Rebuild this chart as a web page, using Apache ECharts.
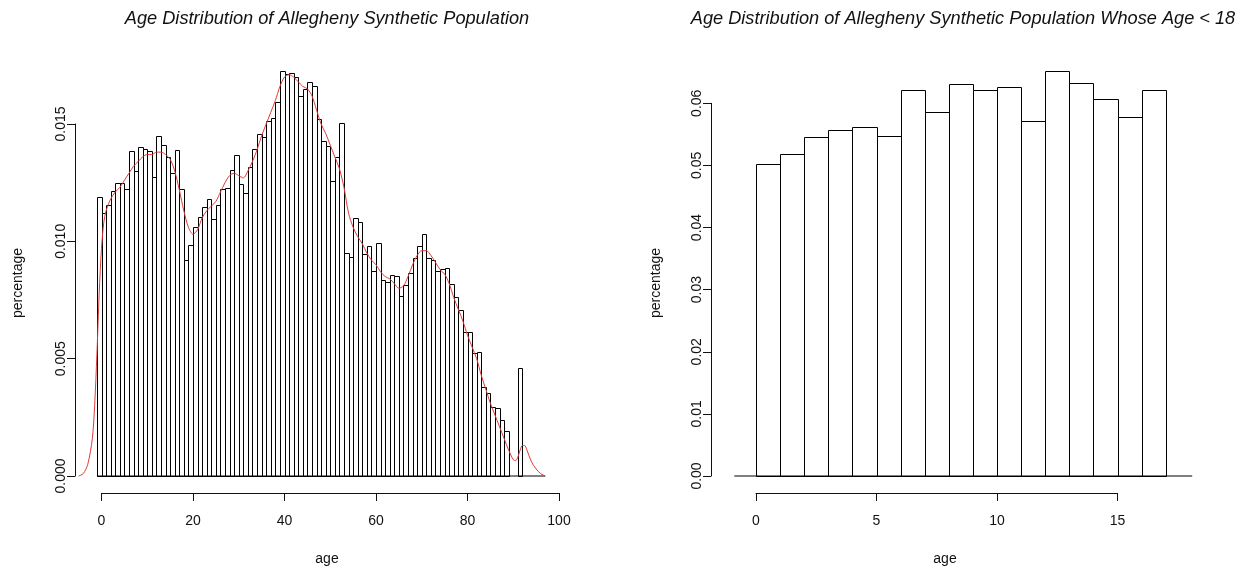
<!DOCTYPE html>
<html><head><meta charset="utf-8">
<script src="https://cdn.jsdelivr.net/npm/echarts@6/dist/echarts.min.js"></script>
<style>html,body{margin:0;padding:0;background:#fff}#c{width:1247px;height:575px}</style>
</head><body><div id="c"></div>
<script>
// ---------------- DATA ----------------
// Left: histogram of age (bin left edges, width 1) and density values
const histAge = [-1,0,1,2,3,4,5,6,7,8,9,10,11,12,13,14,15,16,17,18,19,20,21,22,23,24,25,26,27,28,29,30,31,32,33,34,35,36,37,38,39,40,41,42,43,44,45,46,47,48,49,50,51,52,53,54,55,56,57,58,59,60,61,62,63,64,65,66,67,68,69,70,71,72,73,74,75,76,77,78,79,80,81,82,83,84,85,86,87,88,91];
const histDensity = [0.01188,0.01119,0.01155,0.01216,0.01247,0.01250,0.01222,0.01385,0.01300,0.01403,0.01392,0.01386,0.01273,0.01449,0.01410,0.01361,0.01293,0.01389,0.01222,0.00920,0.00984,0.01062,0.01105,0.01148,0.01179,0.01094,0.01155,0.01222,0.01226,0.01304,0.01368,0.01244,0.01207,0.01318,0.01392,0.01457,0.01443,0.01513,0.01524,0.01592,0.01726,0.01712,0.01716,0.01702,0.01619,0.01648,0.01680,0.01663,0.01520,0.01428,0.01406,0.01258,0.01358,0.01503,0.00952,0.00932,0.01098,0.01084,0.00946,0.00980,0.00875,0.00992,0.00835,0.00828,0.00857,0.00852,0.00767,0.00814,0.00864,0.00930,0.00981,0.01031,0.00928,0.00920,0.00875,0.00881,0.00885,0.00818,0.00764,0.00707,0.00615,0.00615,0.00526,0.00528,0.00378,0.00352,0.00293,0.00291,0.00239,0.00192,0.00459];
const binWidth = 1;
// kernel density estimate (red curve)
const kdeAge = [-5,-4,-3,-2,-1.5,-1,-0.5,0,0.5,1,2,3,4,5,6,7,8,9,10,11,12,13,14,15,16,17,18,19,20,21,22,23,24,25,26,27,28,29,30,31,32,33,34,35,36,37,38,39,40,41,42,43,44,45,46,47,48,49,50,51,52,53,54,55,56,57,58,59,60,61,62,63,64,65,66,67,68,69,70,71,72,73,74,75,76,77,78,79,80,81,82,83,84,85,86,87,88,89,90,90.5,91,91.5,92,92.5,93,94,95,96,97];
const kdeDensity = [0,0.0001,0.0005,0.0016,0.0030,0.0052,0.0078,0.0097,0.0108,0.0113,0.0118,0.0121,0.0123,0.0126,0.0129,0.0132,0.0134,0.0136,0.0137,0.0137,0.0138,0.0138,0.0137,0.0135,0.0130,0.0122,0.0113,0.0106,0.0103,0.0105,0.0110,0.0113,0.0115,0.0117,0.0121,0.0125,0.0128,0.0129,0.0128,0.0127,0.0130,0.0134,0.0139,0.0145,0.0150,0.0155,0.0160,0.0166,0.0170,0.0171,0.0170,0.0168,0.0166,0.0165,0.0162,0.0156,0.0150,0.0146,0.0141,0.0136,0.0131,0.0123,0.0112,0.0106,0.0102,0.0099,0.0095,0.0092,0.0090,0.0087,0.0085,0.0084,0.0082,0.0080,0.0081,0.0085,0.0090,0.0094,0.0096,0.0096,0.0094,0.0091,0.0088,0.0086,0.0082,0.0076,0.0071,0.0066,0.0060,0.0055,0.0050,0.0043,0.0037,0.0031,0.0026,0.0021,0.0016,0.0011,0.0007,0.00065,0.0008,0.0011,0.0013,0.0013,0.0011,0.0006,0.0003,0.0001,0];
const leftBaseline = [-1, 97];
const leftXTicks = {min: 0, max: 100, step: 20};
const leftYTicks = {min: 0, max: 0.015, step: 0.005};

// Right: ages under 18
const childAge = [0,1,2,3,4,5,6,7,8,9,10,11,12,13,14,15,16];
const childDensity = [0.0502,0.0518,0.0546,0.0557,0.0562,0.0547,0.0622,0.0586,0.0631,0.0622,0.0626,0.0571,0.0652,0.0632,0.0607,0.0578,0.0622];
const rightBaseline = [-0.9, 18.1];
const rightXTicks = {min: 0, max: 15, step: 5};
const rightYTicks = {min: 0, max: 0.06, step: 0.01};

const titles = ['Age Distribution of Allegheny Synthetic Population',
                'Age Distribution of Allegheny Synthetic Population Whose Age < 18'];

// ---------------- LAYOUT (pixel calibration) ----------------
const FONT = '"Liberation Sans", Arial, Helvetica, sans-serif';
const CL = {x0: 101.5, sx: 4.575, y0: 476, sy: 23467, xmin: -6.5, xmax: 106, ymin: -0.0008, ymax: 0.0185, yAxisX: 75, xAxisY: 493};
const CR = {x0: 756, sx: 24.1, y0: 476, sy: 6212, xmin: -1.5, xmax: 20, ymin: -0.003, ymax: 0.07, yAxisX: 711, xAxisY: 493};
const px = (c, v) => c.x0 + c.sx * v;
const py = (c, v) => c.y0 - c.sy * v;

function mainGrid(c) {
  return {left: px(c, c.xmin), width: c.sx * (c.xmax - c.xmin), top: py(c, c.ymax), height: c.sy * (c.ymax - c.ymin)};
}
function yAxisGrid(c, t) {
  return {left: c.yAxisX, width: 10, top: py(c, t.max), height: py(c, t.min) - py(c, t.max)};
}
function xAxisGrid(c, t) {
  return {left: px(c, t.min), width: px(c, t.max) - px(c, t.min), top: c.xAxisY - 10, height: 10};
}

const axisCommon = {
  axisLine: {show: true, onZero: false, lineStyle: {color: '#111', width: 1}},
  axisTick: {show: true, length: 8, lineStyle: {color: '#111', width: 1}},
  splitLine: {show: false}
};
function hiddenAxis(gi, c, isX) {
  return {gridIndex: gi, type: 'value', show: false, min: isX ? c.xmin : c.ymin, max: isX ? c.xmax : c.ymax, splitLine: {show: false}};
}
function tickXAxis(gi, t) {
  return Object.assign({gridIndex: gi, type: 'value', position: 'bottom', min: t.min, max: t.max, interval: t.step,
    axisLabel: {fontSize: 14, color: '#111', fontFamily: FONT, margin: 21, formatter: v => String(Math.round(v))}}, axisCommon);
}
function tickYAxis(gi, t, dec) {
  return Object.assign({gridIndex: gi, type: 'value', position: 'left', min: t.min, max: t.max, interval: t.step,
    axisLabel: {fontSize: 14, color: '#111', fontFamily: FONT, rotate: 90, margin: 7, formatter: v => v.toFixed(dec)}}, axisCommon);
}

function histItem(params, api) {
  const p0 = api.coord([api.value(0), 0]);
  const p1 = api.coord([api.value(1), api.value(2)]);
  const x0 = Math.round(p0[0]), x1 = Math.round(p1[0]);
  const yb = Math.round(p0[1]), yt = Math.round(p1[1]);
  return {type: 'rect', shape: {x: x0 + 0.5, y: yt + 0.5, width: x1 - x0, height: yb - yt},
    style: {fill: '#fff', stroke: '#000', lineWidth: 1}};
}

const leftHist = histAge.map((a, i) => [a, a + binWidth, histDensity[i]]);
const leftKde = kdeAge.map((a, i) => [a, kdeDensity[i]]);
const rightHist = childAge.map((a, i) => [a, a + binWidth, childDensity[i]]);

function txt(text, x, y, size, italic, rot) {
  return {type: 'text', x: x, y: y, rotation: rot || 0,
    style: {text: text, font: (italic ? 'italic ' : '') + size + 'px ' + FONT, fill: '#111',
      textAlign: 'center', textVerticalAlign: 'middle', align: 'center', verticalAlign: 'middle'}};
}

const chart = echarts.init(document.getElementById('c'), null, {renderer: 'canvas'});
chart.setOption({
  animation: false,
  backgroundColor: '#fff',
  grid: [mainGrid(CL), yAxisGrid(CL, leftYTicks), xAxisGrid(CL, leftXTicks),
         mainGrid(CR), yAxisGrid(CR, rightYTicks), xAxisGrid(CR, rightXTicks)],
  xAxis: [hiddenAxis(0, CL, true), {gridIndex: 1, type: 'value', show: false}, tickXAxis(2, leftXTicks),
          hiddenAxis(3, CR, true), {gridIndex: 4, type: 'value', show: false}, tickXAxis(5, rightXTicks)],
  yAxis: [hiddenAxis(0, CL, false), tickYAxis(1, leftYTicks, 3), {gridIndex: 2, type: 'value', show: false},
          hiddenAxis(3, CR, false), tickYAxis(4, rightYTicks, 2), {gridIndex: 5, type: 'value', show: false}],
  series: [
    {type: 'custom', xAxisIndex: 0, yAxisIndex: 0, renderItem: histItem, data: leftHist, encode: {x: [0, 1], y: 2}, z: 2},
    {type: 'line', xAxisIndex: 0, yAxisIndex: 0, data: leftBaseline.map(x => [x, 0]), symbol: 'none',
      lineStyle: {color: '#000', width: 1}, z: 3},
    {type: 'line', xAxisIndex: 0, yAxisIndex: 0, data: leftKde, symbol: 'none', smooth: 0.3,
      lineStyle: {color: '#e03a36', width: 1}, z: 4},
    {type: 'custom', xAxisIndex: 3, yAxisIndex: 3, renderItem: histItem, data: rightHist, encode: {x: [0, 1], y: 2}, z: 2},
    {type: 'line', xAxisIndex: 3, yAxisIndex: 3, data: rightBaseline.map(x => [x, 0]), symbol: 'none',
      lineStyle: {color: '#000', width: 1}, z: 3}
  ],
  graphic: [
    txt(titles[0], 327, 19, 18.2, true),
    txt(titles[1], 963, 19, 18.2, true),
    txt('age', 327, 559, 14),
    txt('age', 945, 559, 14),
    txt('percentage', 18, 283, 14, false, Math.PI / 2),
    txt('percentage', 656, 283, 14, false, Math.PI / 2)
  ]
});
</script></body></html>
